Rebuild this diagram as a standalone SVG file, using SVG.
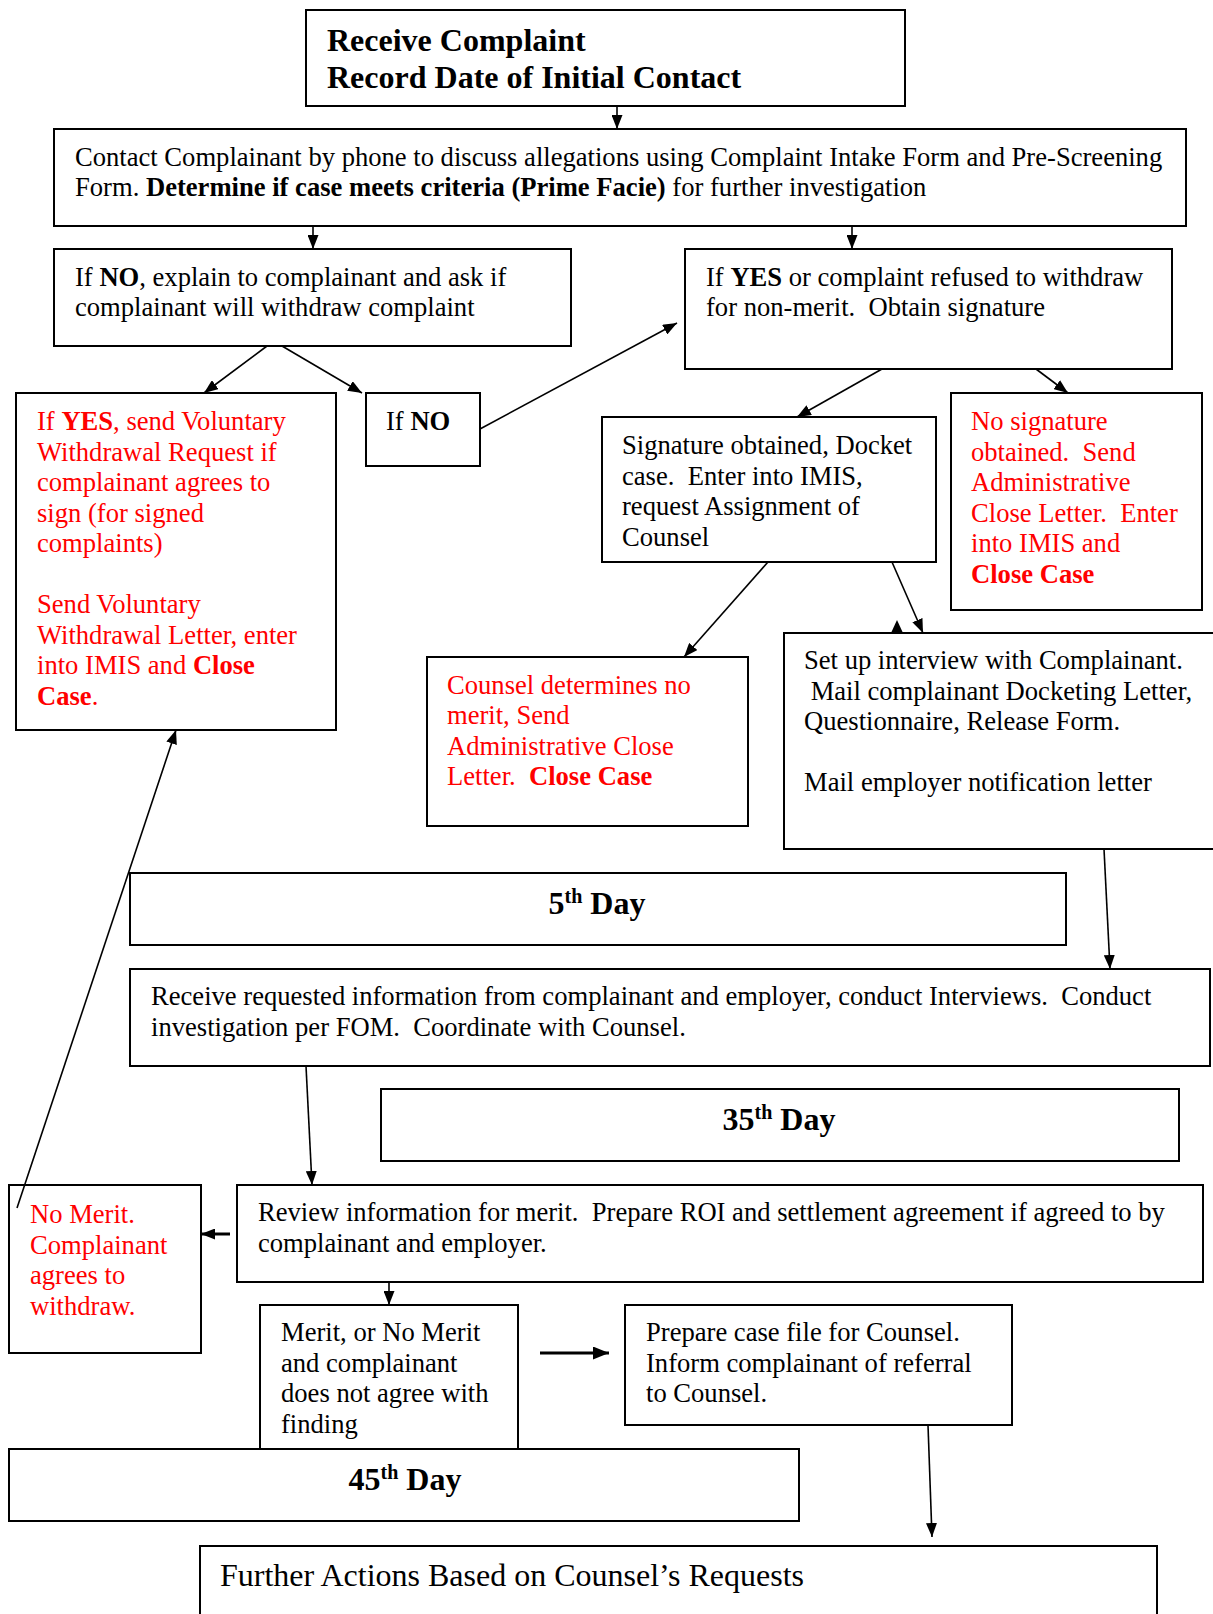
<svg xmlns="http://www.w3.org/2000/svg" width="1213" height="1614" viewBox="0 0 1213 1614">
<style>
.box{fill:#fff;stroke:#000;stroke-width:2}
.t{font-family:"Liberation Serif","Times New Roman",serif;font-size:26.6px;fill:#000}
.r{fill:#f00}
.b{font-weight:bold}
.h{font-size:32px;font-weight:bold}
.big{font-size:32px}
.conn line{stroke:#000;stroke-width:1.6;fill:none}
.conn line.thick{stroke-width:3}
</style>
<defs>
<marker id="ah" markerUnits="userSpaceOnUse" markerWidth="14" markerHeight="11" refX="14" refY="5.5" orient="auto"><path d="M0,0 L14,5.5 L0,11 z" fill="#000"/></marker>
<marker id="ahb" markerUnits="userSpaceOnUse" markerWidth="16" markerHeight="13" refX="16" refY="6.5" orient="auto"><path d="M0,0 L16,6.5 L0,13 z" fill="#000"/></marker>
</defs>
<rect width="1213" height="1614" fill="#fff"/>
<g id="n-receive"><rect class="box" x="306" y="10" width="599" height="96"/>
<text class="t h" x="327" y="51">Receive Complaint</text>
<text class="t h" x="327" y="88">Record Date of Initial Contact</text></g>
<g id="n-contact"><rect class="box" x="54" y="129" width="1132" height="97"/>
<text class="t" x="75" y="166">Contact Complainant by phone to discuss allegations using Complaint Intake Form and Pre-Screening</text>
<text class="t" x="75" y="196">Form. <tspan class="b">Determine if case meets criteria (Prime Facie)</tspan> for further investigation</text></g>
<g id="n-ifno"><rect class="box" x="54" y="249" width="517" height="97"/>
<text class="t" x="75" y="286">If <tspan class="b">NO</tspan>, explain to complainant and ask if</text>
<text class="t" x="75" y="316">complainant will withdraw complaint</text></g>
<g id="n-ifyes"><rect class="box" x="685" y="249" width="487" height="120"/>
<text class="t" x="706" y="286">If <tspan class="b">YES</tspan> or complaint refused to withdraw</text>
<text class="t" x="706" y="316">for non-merit.&#160; Obtain signature</text></g>
<g id="n-voluntary"><rect class="box" x="16" y="393" width="320" height="337"/>
<text class="t r" x="37" y="430">If <tspan class="b">YES</tspan>, send Voluntary</text>
<text class="t r" x="37" y="460.5">Withdrawal Request if</text>
<text class="t r" x="37" y="491">complainant agrees to</text>
<text class="t r" x="37" y="521.5">sign (for signed</text>
<text class="t r" x="37" y="552">complaints)</text>
<text class="t r" x="37" y="613">Send Voluntary</text>
<text class="t r" x="37" y="643.5">Withdrawal Letter, enter</text>
<text class="t r" x="37" y="674">into IMIS and <tspan class="b">Close</tspan></text>
<text class="t r" x="37" y="704.5"><tspan class="b">Case</tspan>.</text></g>
<g id="n-ifno2"><rect class="box" x="366" y="393" width="114" height="73"/>
<text class="t" x="386" y="430">If <tspan class="b">NO</tspan></text></g>
<g id="n-signature"><rect class="box" x="602" y="417" width="334" height="145"/>
<text class="t" x="622" y="454">Signature obtained, Docket</text>
<text class="t" x="622" y="484.5">case.&#160; Enter into IMIS,</text>
<text class="t" x="622" y="515">request Assignment of</text>
<text class="t" x="622" y="545.5">Counsel</text></g>
<g id="n-nosignature"><rect class="box" x="951" y="393" width="251" height="217"/>
<text class="t r" x="971" y="430">No signature</text>
<text class="t r" x="971" y="460.5">obtained.&#160; Send</text>
<text class="t r" x="971" y="491">Administrative</text>
<text class="t r" x="971" y="521.5">Close Letter.&#160; Enter</text>
<text class="t r" x="971" y="552">into IMIS and</text>
<text class="t r b" x="971" y="582.5">Close Case</text></g>
<g id="n-counselnomerit"><rect class="box" x="427" y="657" width="321" height="169"/>
<text class="t r" x="447" y="693.5">Counsel determines no</text>
<text class="t r" x="447" y="724">merit, Send</text>
<text class="t r" x="447" y="754.5">Administrative Close</text>
<text class="t r" x="447" y="785">Letter.&#160; <tspan class="b">Close Case</tspan></text></g>
<g id="n-interview"><rect class="box" x="784" y="633" width="440" height="216"/>
<text class="t" x="804" y="669">Set up interview with Complainant.</text>
<text class="t" x="804" y="699.5">&#160;Mail complainant Docketing Letter,</text>
<text class="t" x="804" y="730">Questionnaire, Release Form.</text>
<text class="t" x="804" y="791">Mail employer notification letter</text></g>
<g id="n-day5"><rect class="box" x="130" y="873" width="936" height="72"/>
<text class="t h" x="597" y="914" text-anchor="middle">5<tspan font-size="20" dy="-11">th</tspan><tspan dy="11"> Day</tspan></text></g>
<g id="n-receiveinfo"><rect class="box" x="130" y="969" width="1080" height="97"/>
<text class="t" x="151" y="1005">Receive requested information from complainant and employer, conduct Interviews.&#160; Conduct</text>
<text class="t" x="151" y="1035.5">investigation per FOM.&#160; Coordinate with Counsel.</text></g>
<g id="n-day35"><rect class="box" x="381" y="1089" width="798" height="72"/>
<text class="t h" x="779" y="1130" text-anchor="middle">35<tspan font-size="20" dy="-11">th</tspan><tspan dy="11"> Day</tspan></text></g>
<g id="n-nomerit"><rect class="box" x="9" y="1185" width="192" height="168"/>
<text class="t r" x="30" y="1223">No Merit.</text>
<text class="t r" x="30" y="1253.5">Complainant</text>
<text class="t r" x="30" y="1284">agrees to</text>
<text class="t r" x="30" y="1314.5">withdraw.</text></g>
<g id="n-review"><rect class="box" x="237" y="1185" width="966" height="97"/>
<text class="t" x="258" y="1221">Review information for merit.&#160; Prepare ROI and settlement agreement if agreed to by</text>
<text class="t" x="258" y="1251.5">complainant and employer.</text></g>
<g id="n-merit"><rect class="box" x="260" y="1305" width="258" height="144"/>
<text class="t" x="281" y="1341">Merit, or No Merit</text>
<text class="t" x="281" y="1371.5">and complainant</text>
<text class="t" x="281" y="1402">does not agree with</text>
<text class="t" x="281" y="1432.5">finding</text></g>
<g id="n-prepare"><rect class="box" x="625" y="1305" width="387" height="120"/>
<text class="t" x="646" y="1341">Prepare case file for Counsel.</text>
<text class="t" x="646" y="1371.5">Inform complainant of referral</text>
<text class="t" x="646" y="1402">to Counsel.</text></g>
<g id="n-day45"><rect class="box" x="9" y="1449" width="790" height="72"/>
<text class="t h" x="405" y="1490" text-anchor="middle">45<tspan font-size="20" dy="-11">th</tspan><tspan dy="11"> Day</tspan></text></g>
<g id="n-further"><rect class="box" x="200" y="1546" width="957" height="100"/>
<text class="t big" x="220" y="1586">Further Actions Based on Counsel’s Requests</text></g>
<g id="connectors" class="conn">
<line x1="617" y1="106" x2="617" y2="129" marker-end="url(#ah)"/>
<line x1="313" y1="226" x2="313" y2="249" marker-end="url(#ah)"/>
<line x1="852" y1="226" x2="852" y2="249" marker-end="url(#ah)"/>
<line x1="267" y1="346" x2="204" y2="393" marker-end="url(#ah)"/>
<line x1="282" y1="346" x2="362" y2="393" marker-end="url(#ah)"/>
<line x1="480" y1="429" x2="677" y2="323" marker-end="url(#ah)"/>
<line x1="882" y1="369" x2="797" y2="417" marker-end="url(#ah)"/>
<line x1="1036" y1="369" x2="1068" y2="393" marker-end="url(#ah)"/>
<line x1="768" y1="562" x2="684" y2="657" marker-end="url(#ah)"/>
<line x1="892" y1="562" x2="923" y2="633" marker-end="url(#ah)"/>
<polygon points="891,633 903,633 897,620" fill="#000"/>
<line x1="1104" y1="849" x2="1110" y2="969" marker-end="url(#ah)"/>
<line x1="306" y1="1066" x2="312" y2="1185" marker-end="url(#ah)"/>
<line x1="17" y1="1208" x2="176" y2="730" marker-end="url(#ah)"/>
<line class="thick" x1="230" y1="1234" x2="201" y2="1234" marker-end="url(#ah)"/>
<line x1="389" y1="1282" x2="389" y2="1305" marker-end="url(#ah)"/>
<line class="thick" x1="540" y1="1353" x2="609" y2="1353" marker-end="url(#ahb)"/>
<line x1="928" y1="1425" x2="932" y2="1537" marker-end="url(#ah)"/>
</g>
</svg>
